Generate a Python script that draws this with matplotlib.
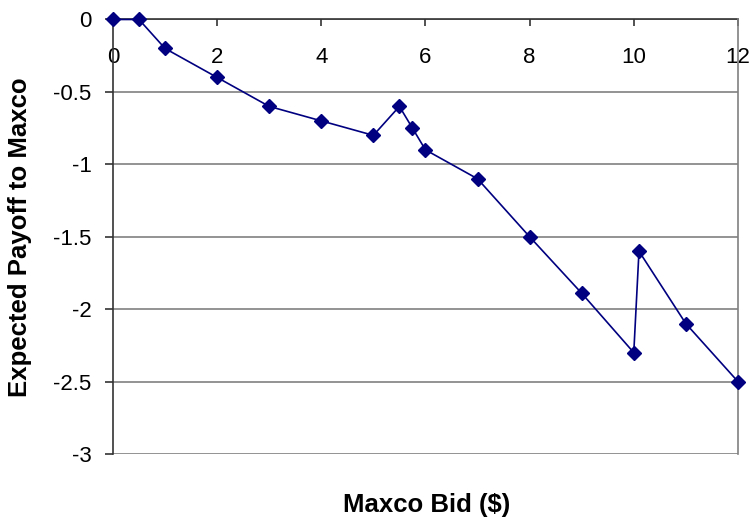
import matplotlib
matplotlib.use("Agg")
import matplotlib.pyplot as plt

# Maxco bid values and the expected payoff at each bid
bids = [0, 0.5, 1, 2, 3, 4, 5, 5.5, 5.75, 6, 7, 8, 9, 10, 10.1, 11, 12]
payoffs = [0, 0, -0.2, -0.4, -0.6, -0.7, -0.8, -0.6, -0.75, -0.9, -1.1,
           -1.5, -1.89, -2.3, -1.6, -2.1, -2.5]

x_ticks = [0, 2, 4, 6, 8, 10, 12]
y_ticks = [0, -0.5, -1, -1.5, -2, -2.5, -3]
y_tick_labels = ["0", "-0.5", "-1", "-1.5", "-2", "-2.5", "-3"]

plt.rcParams["font.family"] = ["Liberation Sans", "DejaVu Sans"]

fig = plt.figure(figsize=(7.53, 5.21), dpi=100)
ax = fig.add_axes([0.150, 0.1286, 0.830, 0.834])

ax.plot(bids, payoffs, color="#000080", lw=1.2, marker="D", ms=7,
        mec="#000080", mfc="#000080", zorder=3, clip_on=False)

ax.set_xlim(0, 12)
ax.set_ylim(-3, 0)

# horizontal gridlines
for yv in y_ticks:
    ax.axhline(yv, color="#808080", lw=1.2, zorder=1)

# x axis sits on y = 0, at the top of the plot area
ax.spines["top"].set_color("#333333")
ax.spines["top"].set_linewidth(1.2)
ax.spines["top"].set_zorder(2)
ax.spines["bottom"].set_visible(False)
ax.spines["right"].set_color("#808080")
ax.spines["right"].set_linewidth(1.2)
ax.spines["left"].set_color("#333333")
ax.spines["left"].set_linewidth(1.2)

ax.xaxis.set_ticks_position("top")
ax.set_xticks(x_ticks)
ax.set_xticklabels([str(v) for v in x_ticks])
ax.tick_params(axis="x", direction="in", length=5, width=1.2, color="#333333",
               labeltop=True, labelbottom=False, labelsize=16, pad=-20)
for lbl in ax.get_xticklabels():
    lbl.set_verticalalignment("top")

ax.set_yticks(y_ticks)
ax.set_yticklabels(y_tick_labels)
ax.tick_params(axis="y", direction="out", length=5.5, width=1.2, color="#333333",
               labelsize=16, pad=10)

fig.text(0.0266, 0.545, "Expected Payoff to Maxco", rotation=90, ha="center",
         va="center", fontsize=18.5, fontweight="bold")
fig.text(0.566, 0.031, "Maxco Bid ($)", ha="center", va="center",
         fontsize=18.5, fontweight="bold")

fig.savefig("out.png", dpi=100)
